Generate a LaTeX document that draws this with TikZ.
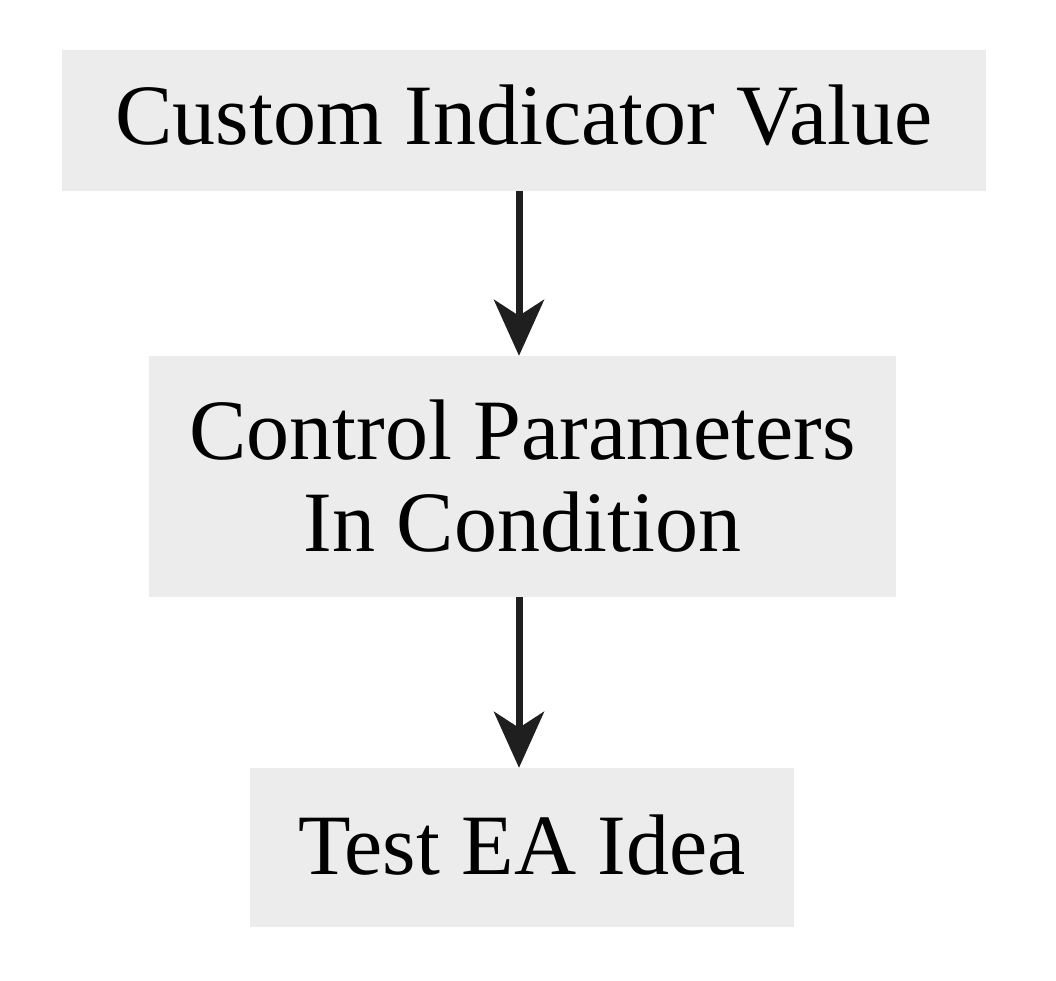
\documentclass[tikz,border=0pt]{standalone}
\usepackage{fontspec}
\setmainfont{Liberation Serif}
\usetikzlibrary{arrows.meta}
\begin{document}
\begin{tikzpicture}[x=1pt,y=-1pt,
  box/.style={fill=boxgray,inner sep=0pt,align=center,font=\fontsize{86}{92}\selectfont,text=black},
  conn/.style={draw=arrowdark,line width=7pt,-{Stealth[length=56pt,width=50pt,inset=16pt]}}]
\definecolor{boxgray}{HTML}{ECECEC}
\definecolor{arrowdark}{HTML}{1F1F1F}
\useasboundingbox[fill=white] (0,0) rectangle (1056,980);
\node[box,minimum width=924pt,minimum height=141pt,text depth=12pt] (a) at (524,120.5) {Custom Indicator Value};
\node[box,minimum width=747pt,minimum height=241pt] (b) at (522.5,476.5) {Control Parameters\\In Condition};
\node[box,minimum width=544pt,minimum height=159pt,text depth=6pt] (c) at (522,847.5) {Test EA Idea};
\draw[conn] (a.south -| 519,0) -- (b.north -| 519,0);
\draw[conn] (b.south -| 519,0) -- (c.north -| 519,0);
\end{tikzpicture}
\end{document}
